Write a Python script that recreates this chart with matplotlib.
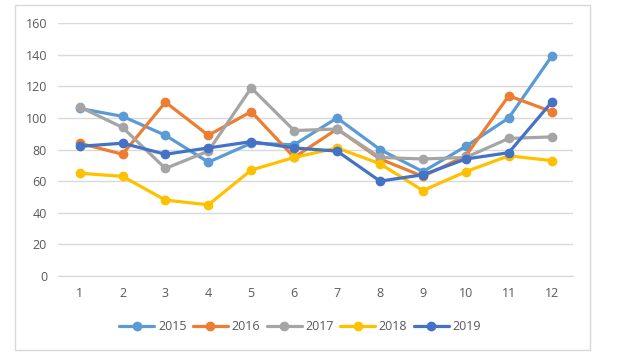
import matplotlib
matplotlib.use("Agg")
import matplotlib.pyplot as plt
from matplotlib.patches import Rectangle

# ── Data ─────────────────────────────────────────────
months = [1, 2, 3, 4, 5, 6, 7, 8, 9, 10, 11, 12]
years = ["2015", "2016", "2017", "2018", "2019"]

v2015 = [106, 101, 89, 72, 84, 83, 100, 80, 66, 82, 100, 139]
v2016 = [84, 77, 110, 89, 104, 75, 93, 74, 63, 76, 114, 104]
v2017 = [107, 94, 68, 79, 119, 92, 93, 75, 74, 75, 87, 88]
v2018 = [65, 63, 48, 45, 67, 75, 81, 71, 54, 66, 76, 73]
v2019 = [82, 84, 77, 81, 85, 81, 79, 60, 64, 74, 78, 110]

series = [v2015, v2016, v2017, v2018, v2019]
colors = ["#5B9BD5", "#ED7D31", "#A5A5A5", "#FFC000", "#4472C4"]

plt.rcParams["font.family"] = ["Open Sans", "DejaVu Sans"]

fig = plt.figure(figsize=(6.25, 3.56), dpi=100)
# outer chart border
fig.patches.append(Rectangle((15 / 625, 1 - 350 / 356), 575 / 625, 345 / 356,
                             transform=fig.transFigure, fill=False,
                             edgecolor="#D9D9D9", linewidth=1))

ax = fig.add_axes([0.093, 0.225, 0.824, 0.71])
for name, vals, c in zip(years, series, colors):
    ax.plot(months, vals, color=c, linewidth=2.3, marker="o", markersize=6,
            label=name, solid_capstyle="round")

ax.set_xlim(0.5, 12.5)
ax.set_ylim(0, 160)
ax.set_yticks(range(0, 161, 20))
ax.set_xticks(months)
ax.grid(axis="y", color="#D9D9D9", linewidth=1)
ax.set_axisbelow(True)
for s in ["top", "right", "left"]:
    ax.spines[s].set_visible(False)
ax.spines["bottom"].set_color("#D9D9D9")
ax.tick_params(length=0, labelsize=9, labelcolor="#595959", pad=8)

ax.legend(loc="center", bbox_to_anchor=(0.47, -0.2), ncol=5, frameon=False,
          fontsize=9, labelcolor="#595959", handlelength=2.8,
          columnspacing=0.5, handletextpad=0.3)

fig.savefig("out.png", dpi=100)
